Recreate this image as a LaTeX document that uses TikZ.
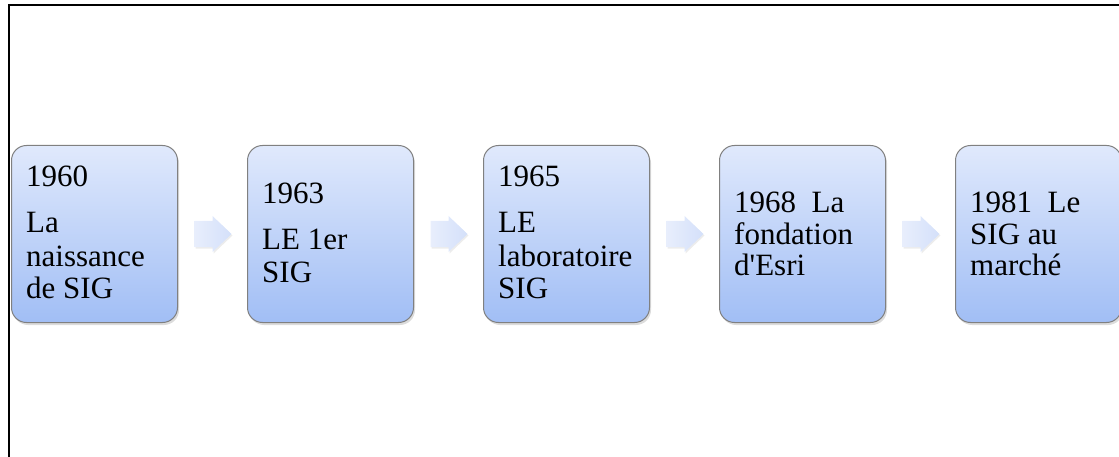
\documentclass[tikz,border=0pt]{standalone}
\usepackage{fontspec}
\setmainfont{Liberation Serif}
\usetikzlibrary{calc,shadows}
\definecolor{boxtop}{RGB}{224,233,252}
\definecolor{boxbot}{RGB}{161,190,245}
\definecolor{boxline}{RGB}{128,128,128}
\definecolor{arrowL}{RGB}{232,238,252}
\definecolor{arrowR}{RGB}{212,224,250}
\tikzset{
  stepbox/.style={draw=boxline, line width=1pt, rounded corners=15pt,
    top color=boxtop, bottom color=boxbot,
    minimum width=166pt, minimum height=177pt, inner sep=0pt, anchor=north west,
    drop shadow={opacity=0.28, shadow xshift=1.5pt, shadow yshift=-2.5pt}},
  txt/.style={anchor=base west, inner sep=0pt, font=\fontsize{31}{32}\selectfont},
  chevron/.style={draw=none, left color=arrowL, right color=arrowR,
    drop shadow={opacity=0.15, shadow xshift=1pt, shadow yshift=-1.5pt}},
  frameline/.style={line width=2pt, black}
}
\begin{document}
\begin{tikzpicture}[x=1pt,y=-1pt]
  \useasboundingbox (0,0) rectangle (1119,457);
  % page frame (top and left edges)
  \coordinate (ftr) at (1119,5);
  \coordinate (ftl) at (8.5,5);
  \coordinate (fbl) at (8.5,457);
  \draw[frameline] (ftr) -- (ftl) -- (fbl);

  % timeline boxes
  \node[stepbox] (b1) at (11,145) {};
  \node[stepbox] (b2) at (247,145) {};
  \node[stepbox] (b3) at (483,145) {};
  \node[stepbox] (b4) at (719,145) {};
  \node[stepbox] (b5) at (955,145) {};

  % texts
  \node[txt] (t1a) at (26,187) {1960};
  \node[txt] (t1b) at (26,233) {La};
  \node[txt] (t1c) at (26,266) {naissance};
  \node[txt] (t1d) at (26,298) {de SIG};

  \node[txt] (t2a) at (262,204) {1963};
  \node[txt] (t2b) at (262,250) {LE 1er};
  \node[txt] (t2c) at (262,282) {SIG};

  \node[txt] (t3a) at (498,187) {1965};
  \node[txt] (t3b) at (498,233) {LE};
  \node[txt] (t3c) at (498,266) {laboratoire};
  \node[txt] (t3d) at (498,298) {SIG};

  \node[txt] (t4a) at (734,213) {1968\ \ La};
  \node[txt] (t4b) at (734,244) {fondation};
  \node[txt] (t4c) at (734,275) {d\textquotesingle Esri};

  \node[txt] (t5a) at (970,213) {1981\ \ Le};
  \node[txt] (t5b) at (970,244) {SIG au};
  \node[txt] (t5c) at (970,275) {marché};

  % chevron arrows between consecutive boxes
  \foreach \a/\b in {b1/b2,b2/b3,b3/b4,b4/b5}{
    \coordinate (m) at ($(\a.east)!0.5!(\b.west)$);
    \path[chevron,shift={(m)}]
      (-18,-13) -- (0,-13) -- (0,-18) -- (19,0) -- (0,18) -- (0,13) -- (-18,13) -- cycle;
  }
\end{tikzpicture}
\end{document}
